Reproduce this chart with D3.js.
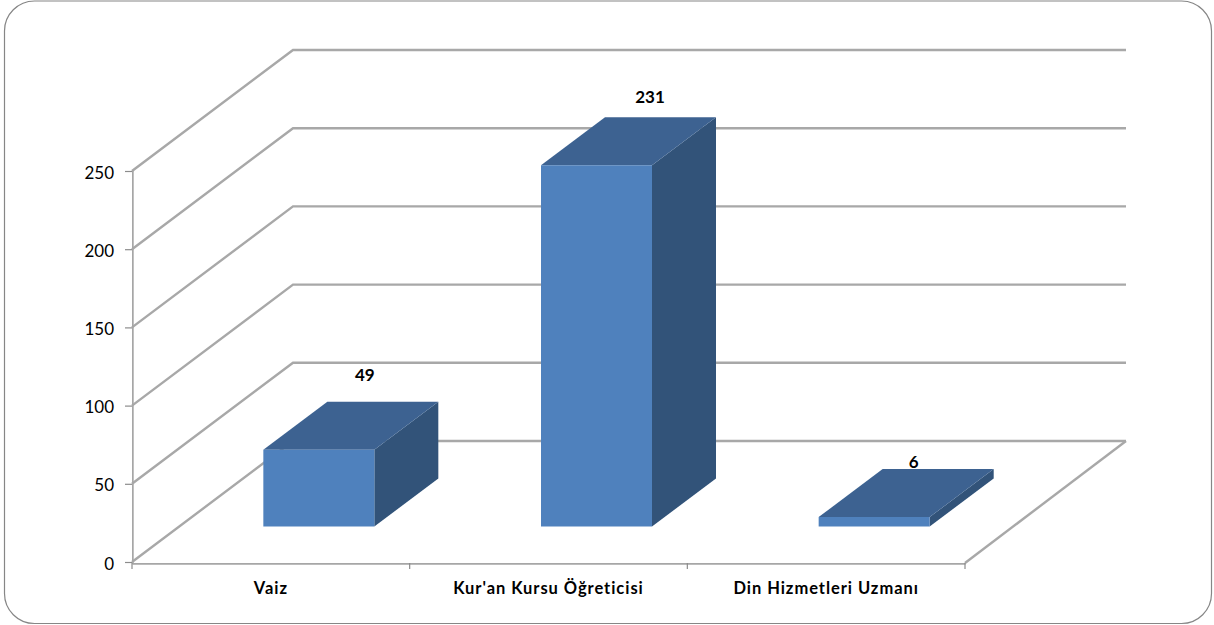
<!DOCTYPE html>
<html><head><meta charset="utf-8">
<script src="https://cdn.jsdelivr.net/npm/d3@7/dist/d3.min.js"></script>
<style>html,body{margin:0;padding:0;background:#fff}svg{display:block}
text{font-family:Lato,"Open Sans",sans-serif;fill:#000}</style></head>
<body><svg id="c" width="1214" height="625"></svg>
<script>
const categories = ["Vaiz", "Kur'an Kursu Öğreticisi", "Din Hizmetleri Uzmanı"];
const values = [49, 231, 6];
const yTicks = [0, 50, 100, 150, 200, 250];

const svg = d3.select("#c");
const defs = svg.append("defs");
defs.append("filter").attr("id","soft").attr("filterUnits","userSpaceOnUse")
  .attr("x",0).attr("y",0).attr("width",1214).attr("height",625)
  .append("feGaussianBlur").attr("stdDeviation",0.55);

svg.append("rect").attr("x",4.5).attr("y",1).attr("width",1207).attr("height",622.5).attr("rx",30)
  .attr("fill","#fff").attr("stroke","#868686").attr("stroke-width",1.2);

const y = d3.scaleLinear().domain([0,250]).range([562,171]);
const x = d3.scaleBand().domain(categories).range([132,965]);
const wallDx = 161, wallDy = -121;         // depth of the chart floor
const gapDx = 48, gapDy = -35.5;           // floor offset to bar front
const barDx = 64, barDy = -48;             // bar depth
const barW = 111;
const labelDx = [46, 53.5, 39.5], labelDy = [-27, -20, -7];

const grid = svg.append("g").attr("fill","none").attr("stroke","#a8a8a8").attr("stroke-width",2.4).attr("filter","url(#soft)");
const line = d3.line();
yTicks.forEach(t=>{
  grid.append("path").attr("d",line([
    [x.range()[0],y(t)],
    [x.range()[0]+wallDx,y(t)+wallDy],
    [x.range()[1]+wallDx,y(t)+wallDy]
  ]));
});
grid.append("path").attr("d",line([
  [x.range()[1],y(0)+1],
  [x.range()[1]+wallDx,y(0)+wallDy]
]));

const yAxis = svg.append("g").attr("transform",`translate(${x.range()[0]},0)`)
  .call(d3.axisLeft(y).tickValues(yTicks).tickSize(7).tickPadding(11));
const xAxis = svg.append("g").attr("transform",`translate(0,${y(0)+1})`)
  .call(d3.axisBottom(x).tickSize(0).tickPadding(19));
[yAxis,xAxis].forEach(a=>{
  a.selectAll("path.domain").attr("stroke","#a6a6a6").attr("stroke-width",2.4).attr("filter","url(#soft)");
  a.selectAll("line").attr("stroke","#8c8c8c").attr("stroke-width",1.2);
});
yAxis.selectAll("text").attr("font-size",17).attr("dy","0.42em").style("font-family","Lato,sans-serif");
xAxis.selectAll("text").attr("font-size",16.5).attr("font-weight",700).attr("dy","0.71em")
  .style("letter-spacing","0.95px").style("font-family","Lato,sans-serif");
xAxis.selectAll(".tick").attr("transform",function(d){return `translate(${x(d)+x.bandwidth()/2},0)`;});
const bounds = categories.map(c=>x(c)).concat([x.range()[1]]);
xAxis.selectAll("line.b").data(bounds).join("line").attr("class","b")
  .attr("x1",d=>d).attr("x2",d=>d).attr("y1",0).attr("y2",6)
  .attr("stroke","#8c8c8c").attr("stroke-width",1.2);

const bars = svg.append("g").attr("filter","url(#soft)");
categories.forEach((c,i)=>{
  const v = values[i];
  const x0 = x(c)+x.bandwidth()/2+gapDx-barW/2, x1 = x0+barW;
  const yb = y(0)+gapDy, yt = yb-(y(0)-y(v));
  bars.append("path").attr("fill","#315379").attr("d",line([[x1,yb],[x1+barDx,yb+barDy],[x1+barDx,yt+barDy],[x1,yt]])+"Z");
  bars.append("path").attr("fill","#3c6291").attr("d",line([[x0,yt],[x0+barDx,yt+barDy],[x1+barDx,yt+barDy],[x1,yt]])+"Z");
  bars.append("path").attr("fill","#4f81bd").attr("d",line([[x0,yb],[x0,yt],[x1,yt],[x1,yb]])+"Z");
  svg.append("text").attr("x",(x0+x1)/2+labelDx[i]).attr("y",yt+barDy+labelDy[i]).attr("dy","0.36em")
    .attr("text-anchor","middle").attr("font-size",17).attr("font-weight",700).text(v);
});
</script></body></html>
